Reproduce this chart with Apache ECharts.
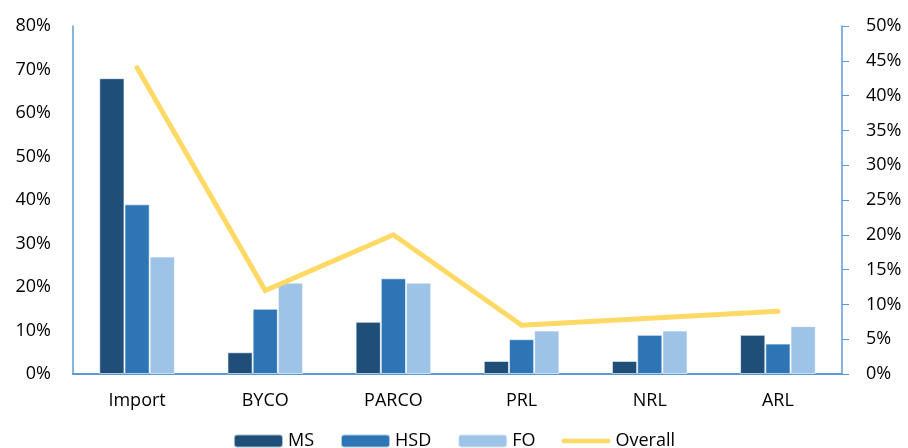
<!DOCTYPE html>
<html>
<head>
<meta charset="utf-8">
<script src="https://cdn.jsdelivr.net/npm/echarts@6/dist/echarts.min.js"></script>
<style>
  html, body { margin: 0; padding: 0; background: #fff; }
  #main { width: 908px; height: 448px; }
</style>
</head>
<body>
<div id="main"></div>
<script>
  // Data
  var categories = ['Import', 'BYCO', 'PARCO', 'PRL', 'NRL', 'ARL'];
  var msValues = [68, 5, 12, 3, 3, 9];
  var hsdValues = [39, 15, 22, 8, 9, 7];
  var foValues = [27, 21, 21, 10, 10, 11];
  var overallValues = [44, 12, 20, 7, 8, 9];

  var font = 'Open Sans';
  var fontSize = 18;
  var axisColor = '#5B9BD5';

  var myChart = echarts.init(document.getElementById('main'));

  function barSeries(name, data, color) {
    return {
      name: name,
      type: 'bar',
      data: data,
      barGap: '0%',
      barCategoryGap: '41%',
      itemStyle: { color: color, borderColor: 'rgba(255,255,255,0.6)', borderWidth: 1 }
    };
  }

  var option = {
    animation: false,
    grid: { left: 73, right: 66, top: 26, bottom: 74 },
    legend: {
      top: 427,
      left: 'center',
      itemWidth: 49,
      itemHeight: 13,
      itemGap: 26,
      textStyle: { fontFamily: font, fontSize: fontSize, color: '#000' },
      data: [
        { name: 'MS' },
        { name: 'HSD' },
        { name: 'FO' },
        {
          name: 'Overall',
          icon: 'path://M2.5,0 L52.5,0 A2.5,2.5 0 0 1 52.5,5 L2.5,5 A2.5,2.5 0 0 1 2.5,0 Z',
          itemStyle: { color: '#FFD966' }
        }
      ]
    },
    xAxis: {
      type: 'category',
      data: categories,
      axisLine: { lineStyle: { color: axisColor, width: 2 } },
      axisTick: { show: false },
      axisLabel: { fontFamily: font, fontSize: fontSize, color: '#000', margin: 18 }
    },
    yAxis: [
      {
        type: 'value',
        min: 0, max: 80, interval: 10,
        axisLine: { show: true, lineStyle: { color: axisColor, width: 1.5 } },
        axisTick: { show: false },
        splitLine: { show: false },
        axisLabel: { fontFamily: font, fontSize: fontSize, color: '#000', margin: 22, formatter: '{value}%' }
      },
      {
        type: 'value',
        position: 'right',
        min: 0, max: 50, interval: 5,
        axisLine: { show: true, lineStyle: { color: axisColor, width: 1.5 } },
        axisTick: { show: true, inside: false, length: 7, lineStyle: { color: axisColor } },
        splitLine: { show: false },
        axisLabel: { fontFamily: font, fontSize: fontSize, color: '#000', margin: 24, formatter: '{value}%' }
      }
    ],
    series: [
      barSeries('MS', msValues, '#1F4E79'),
      barSeries('HSD', hsdValues, '#2E75B6'),
      barSeries('FO', foValues, '#9DC3E6'),
      {
        name: 'Overall',
        type: 'line',
        yAxisIndex: 1,
        data: overallValues,
        symbol: 'none',
        lineStyle: { color: '#FFD966', width: 5, cap: 'round', join: 'miter' },
        itemStyle: { color: '#FFD966' }
      }
    ]
  };

  myChart.setOption(option);
</script>
</body>
</html>
